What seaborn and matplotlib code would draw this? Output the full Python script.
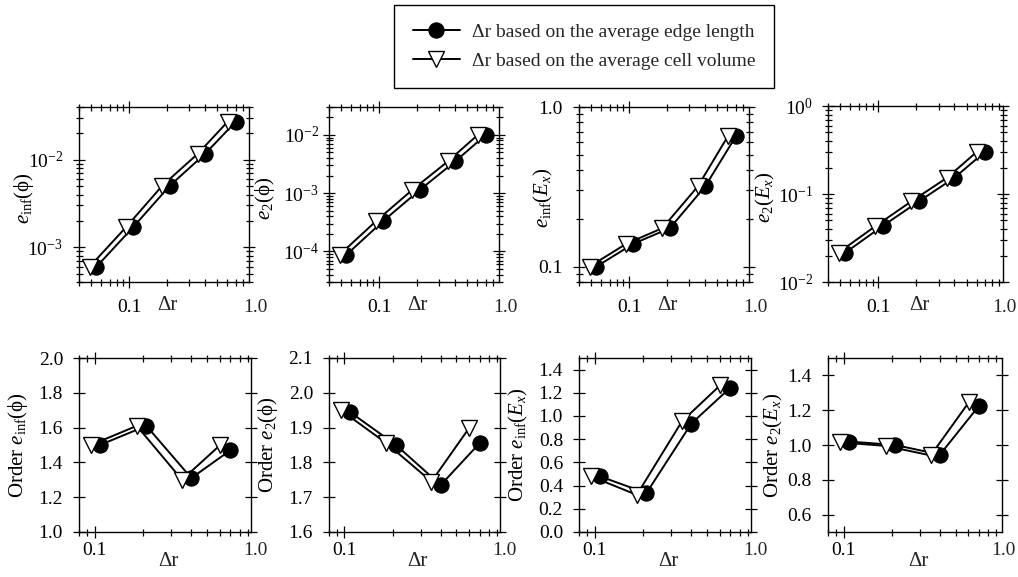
import numpy as np
import pandas as pd
import matplotlib
matplotlib.use("Agg")
import matplotlib.pyplot as plt
from matplotlib.ticker import LogLocator, FixedLocator, NullFormatter, FixedFormatter
import seaborn as sns

# Mesh spacing measured two ways
dr_edge = [0.055, 0.108, 0.21, 0.40, 0.70]
dr_vol = [0.0485, 0.095, 0.183, 0.35, 0.605]

# Error norms on each mesh (same meshes for both spacing definitions)
err_inf_phi = [5.97e-4, 1.71e-3, 5.05e-3, 1.17e-2, 2.73e-2]
err_2_phi = [8.8e-5, 3.36e-4, 1.14e-3, 3.5e-3, 1.0e-2]
err_inf_ex = [0.100, 0.139, 0.174, 0.318, 0.655]
err_2_ex = [0.0216, 0.0432, 0.0826, 0.153, 0.303]

# Observed convergence orders between consecutive meshes
order_inf_phi_edge = [1.50, 1.61, 1.31, 1.47]
order_inf_phi_vol = [1.50, 1.61, 1.30, 1.50]
order_2_phi_edge = [1.945, 1.85, 1.735, 1.855]
order_2_phi_vol = [1.95, 1.855, 1.745, 1.90]
order_inf_ex_edge = [0.48, 0.335, 0.935, 1.245]
order_inf_ex_vol = [0.48, 0.32, 0.955, 1.265]
order_2_ex_edge = [1.02, 1.0, 0.945, 1.225]
order_2_ex_vol = [1.015, 0.995, 0.94, 1.245]

legend_labels = ["\u0394r based on the average edge length",
                 "\u0394r based on the average cell volume"]
PHI = "\u03d5"

sns.set_theme(style="ticks")
plt.rcParams["font.family"] = ["Liberation Serif", "DejaVu Serif"]
plt.rcParams["mathtext.fontset"] = "custom"
plt.rcParams["mathtext.rm"] = "Liberation Serif"
plt.rcParams["mathtext.it"] = "Liberation Serif:italic"
plt.rcParams["mathtext.bf"] = "Liberation Serif:bold"
plt.rcParams["axes.edgecolor"] = "black"
plt.rcParams["axes.linewidth"] = 1.0

TICK_FS = 14
LAB_FS = 15
PX = 72 / 100  # points per pixel at 100 dpi
W, H = 1018, 577
fig = plt.figure(figsize=(W / 100, H / 100), dpi=100)


def px_axes(left, top, right, bottom):
    return fig.add_axes([left / W, 1 - bottom / H, (right - left) / W, (bottom - top) / H])


def draw_pair(ax, x1, y1, x2, y2):
    sns.lineplot(x=x1, y=y1, ax=ax, color="black", linewidth=1.4, marker="o",
                 markersize=11, markerfacecolor="black", markeredgecolor="black",
                 label=legend_labels[0], legend=False, zorder=3)
    sns.lineplot(x=x2, y=y2, ax=ax, color="black", linewidth=1.4, marker="v",
                 markersize=12, markerfacecolor="white", markeredgecolor="black",
                 markeredgewidth=1.0, label=legend_labels[1], legend=False, zorder=4)


def style_axis(ax, xmin, xmax, xpad_px, ypad_px):
    ax.set_xscale("log")
    ax.set_xlim(xmin, xmax)
    ax.xaxis.set_major_locator(FixedLocator([0.1]))
    ax.xaxis.set_major_formatter(FixedFormatter(["0.1"]))
    ax.xaxis.set_minor_locator(LogLocator(base=10, subs=np.arange(2, 10), numticks=20))
    ax.xaxis.set_minor_formatter(NullFormatter())
    ax.tick_params(which="both", direction="inout", top=True, right=True,
                   colors="black", labelsize=TICK_FS, width=0.9)
    ax.tick_params(which="major", length=12 * PX)
    ax.tick_params(which="minor", length=7 * PX)
    ax.tick_params(axis="x", which="major", pad=xpad_px * PX)
    ax.tick_params(axis="y", which="major", pad=ypad_px * PX)
    ax.set_xlabel("")
    # label for the decade tick that sits at or just past the right edge
    ax.annotate("1.0", xy=(1.0, 0.0), xycoords=("data", "axes fraction"),
                xytext=(0, -(6 + xpad_px)), textcoords="offset pixels",
                ha="center", va="top", fontsize=TICK_FS, annotation_clip=False)
    for sp in ax.spines.values():
        sp.set_color("black")
        sp.set_visible(True)
    ax.grid(False)


def log_y(ax, lo, hi, majors, labels):
    ax.set_yscale("log")
    ax.set_ylim(lo, hi)
    ax.yaxis.set_major_locator(FixedLocator(majors))
    ax.yaxis.set_major_formatter(FixedFormatter(labels))
    ax.yaxis.set_minor_locator(LogLocator(base=10, subs=np.arange(2, 10), numticks=20))
    ax.yaxis.set_minor_formatter(NullFormatter())


top_boxes = [(79, 107, 249, 282), (329, 107, 499, 282), (579, 107, 749, 282), (828, 106, 1003, 282)]
bot_boxes = [(79, 358, 251, 532), (329, 358, 500, 532), (579, 358, 751, 532), (828, 358, 1002, 532)]
top_xmax = [0.89, 0.89, 0.89, 0.97]
bot_xmax = [0.94, 0.94, 0.94, 0.975]

# Top row: error norms
top_err = [err_inf_phi, err_2_phi, err_inf_ex, err_2_ex]
top_labels = [r"$e_{\mathrm{inf}}$(" + PHI + ")", r"$e_2$(" + PHI + ")",
              r"$e_{\mathrm{inf}}(E_x)$", r"$e_2(E_x)$"]
top_label_off = [55, 64, 36, 63]
top_ypad = [10, 4, 10, 9]
top_axes = []
for i, box in enumerate(top_boxes):
    ax = px_axes(*box)
    draw_pair(ax, dr_edge, top_err[i], dr_vol, top_err[i])
    style_axis(ax, 0.04, top_xmax[i], 11, top_ypad[i])
    top_axes.append(ax)

log_y(top_axes[0], 4e-4, 4e-2, [1e-3, 1e-2], [r"$10^{-3}$", r"$10^{-2}$"])
log_y(top_axes[1], 3e-5, 3e-2, [1e-4, 1e-3, 1e-2],
      [r"$10^{-4}$", r"$10^{-3}$", r"$10^{-2}$"])
log_y(top_axes[2], 0.08, 1.0, [0.1, 1.0], ["0.1", "1.0"])
log_y(top_axes[3], 1e-2, 1.0, [1e-2, 1e-1, 1.0],
      [r"$10^{-2}$", r"$10^{-1}$", r"$10^{0}$"])

# Bottom row: convergence orders
bot_edge = [order_inf_phi_edge, order_2_phi_edge, order_inf_ex_edge, order_2_ex_edge]
bot_vol = [order_inf_phi_vol, order_2_phi_vol, order_inf_ex_vol, order_2_ex_vol]
bot_labels = [r"Order $e_{\mathrm{inf}}$(" + PHI + ")", r"Order $e_2$(" + PHI + ")",
              r"Order $e_{\mathrm{inf}}(E_x)$", r"Order $e_2(E_x)$"]
bot_ylims = [(1.0, 2.0), (1.6, 2.1), (0.0, 1.5), (0.5, 1.5)]
bot_yticks = [np.arange(1.0, 2.01, 0.2), np.arange(1.6, 2.101, 0.1),
              np.arange(0.0, 1.41, 0.2), np.arange(0.6, 1.41, 0.2)]
bot_label_off = [61, 61, 61, 55]
bot_axes = []
for i, box in enumerate(bot_boxes):
    ax = px_axes(*box)
    draw_pair(ax, dr_edge[1:], bot_edge[i], dr_vol[1:], bot_vol[i])
    style_axis(ax, 0.08, bot_xmax[i], 4, 10)
    ax.set_ylim(*bot_ylims[i])
    ax.yaxis.set_major_locator(FixedLocator(bot_yticks[i]))
    ax.yaxis.set_major_formatter(FixedFormatter(["%.1f" % v for v in bot_yticks[i]]))
    ax.yaxis.set_minor_locator(FixedLocator([]))
    bot_axes.append(ax)

for i, ax in enumerate(top_axes):
    w = top_boxes[i][2] - top_boxes[i][0]
    ax.set_ylabel(top_labels[i], fontsize=LAB_FS, color="black", va="center")
    ax.yaxis.set_label_coords(-top_label_off[i] / w, 0.48)
    ax.text(0.52, -23 / 175, "\u0394r", transform=ax.transAxes, ha="center",
            va="center", fontsize=15)

for i, ax in enumerate(bot_axes):
    w = bot_boxes[i][2] - bot_boxes[i][0]
    ax.set_ylabel(bot_labels[i], fontsize=LAB_FS, color="black", va="center")
    ax.yaxis.set_label_coords(-bot_label_off[i] / w, 0.5)
    ax.text(0.52, -29 / 174, "\u0394r", transform=ax.transAxes, ha="center",
            va="center", fontsize=15)

handles, labels = top_axes[0].get_legend_handles_labels()
leg = fig.legend(handles, labels, loc="center", bbox_to_anchor=(584 / W, 1 - 46.5 / H),
                 fontsize=14, frameon=True, fancybox=False, edgecolor="black",
                 framealpha=1.0, handlelength=2.45, handletextpad=0.6,
                 borderpad=0.95, borderaxespad=0, labelspacing=0.6)
leg.get_frame().set_linewidth(1.0)

fig.savefig("out.png", dpi=100)
